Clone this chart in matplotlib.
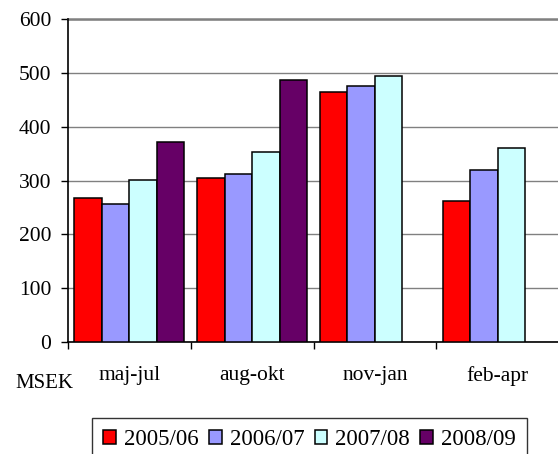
import matplotlib
matplotlib.use("Agg")
import matplotlib.pyplot as plt
import numpy as np

categories = ["maj-jul", "aug-okt", "nov-jan", "feb-apr"]
series_names = ["2005/06", "2006/07", "2007/08", "2008/09"]
v2005 = [268, 305, 465, 262]
v2006 = [256, 312, 476, 320]
v2007 = [301, 353, 494, 361]
v2008 = [372, 487, np.nan, np.nan]
colors = ["#FF0000", "#9999FF", "#CCFFFF", "#660066"]
yticks = [0, 100, 200, 300, 400, 500, 600]

plt.rcParams['font.family'] = ['Liberation Serif', 'DejaVu Serif']

fig = plt.figure(figsize=(5.58, 4.54), dpi=100)
ax = fig.add_axes([68/558, 1-342/454, 491/558, (342-19)/454])

x = np.arange(len(categories))
w = 0.224
data = [v2005, v2006, v2007, v2008]
for i, (vals, c, name) in enumerate(zip(data, colors, series_names)):
    ax.bar(x + (i - 1.5) * w, vals, width=w, color=c, edgecolor='black',
           linewidth=1.1, label=name, zorder=3)

ax.set_xlim(-0.5, 3.5)
ax.set_ylim(0, 600)
ax.set_yticks(yticks)
ax.set_yticklabels([str(t) for t in yticks], fontsize=15.5)
ax.yaxis.grid(True, color='#808080', linewidth=1.0, zorder=0)
ax.set_axisbelow(True)
ax.set_xticks(x)
ax.set_xticklabels(categories, fontsize=15.5)
ax.tick_params(axis='x', length=0, pad=17)
ax.set_xticks(np.arange(-0.5, 4.0, 1.0), minor=True)
ax.tick_params(axis='x', which='minor', length=5, width=1, color='black')
ax.tick_params(axis='y', length=5, width=1, pad=7)
for s in ['top', 'right']:
    ax.spines[s].set_visible(False)
ax.spines['left'].set_linewidth(1.2)
ax.spines['bottom'].set_linewidth(1.2)
ax.axhline(600, color='#808080', linewidth=1.8, zorder=1, clip_on=False)

fig.text(15/558, 1-384/454, "MSEK", fontsize=15, va='center', ha='left')

leg = fig.legend(loc='upper left', bbox_to_anchor=(92/558, 1-418/454), ncol=4,
                 fontsize=16.5, frameon=True, fancybox=False, edgecolor='black',
                 handlelength=0.55, handleheight=0.55, handletextpad=0.35,
                 columnspacing=0.45, borderpad=0.5, borderaxespad=0)
leg.get_frame().set_linewidth(1.0)

fig.savefig("out.png", dpi=100)
